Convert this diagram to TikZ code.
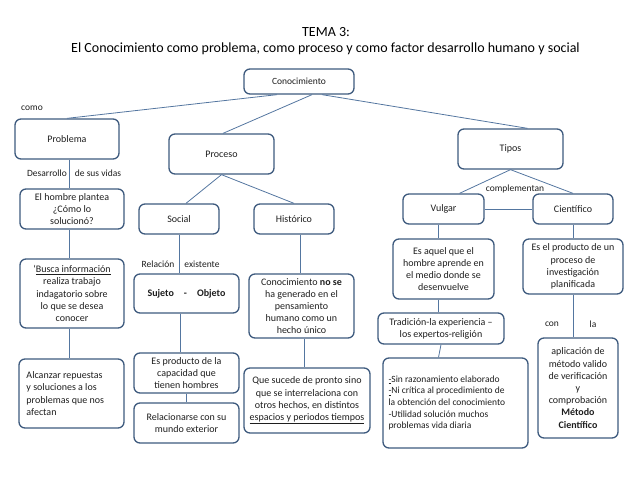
\documentclass[tikz,border=0pt]{standalone}
\usepackage{fontspec}
\setmainfont{Carlito}
\usepackage{tikz}
\usetikzlibrary{positioning,calc}
\definecolor{boxline}{RGB}{62,90,126}
\definecolor{linkline}{RGB}{84,118,160}
\definecolor{txt}{RGB}{30,30,30}

\begin{document}
\begin{tikzpicture}[x = 1pt, y = -1pt,
  box/.style = {draw = boxline, line width = 1.3pt, rounded corners = 6pt, align = center,
    inner sep = 1pt, text = txt, font = \fontsize{10}{12.2}\selectfont},
  lbl/.style = {text = txt, font = \fontsize{9.5}{11}\selectfont, inner sep = 1pt},
  link/.style = {draw = linkline, line width = .8pt}]
\useasboundingbox (0,0) rectangle (638,479);

\node (title1) at (326,32) {\fontsize{14}{16}\selectfont TEMA 3:};
\node (title2) at (325.5,49) {\fontsize{14}{16}\selectfont El Conocimiento como problema, como proceso y como factor desarrollo humano y social};

\node[box, minimum width = 110pt, minimum height = 25pt, font = \fontsize{9.5}{11}\selectfont] (cono) at (299,81.5) {Conocimiento};
\node[lbl] (como) at (32,108) {como};

\node[box, minimum width = 104pt, minimum height = 40pt] (probl) at (67,139) {Problema};
\node[box, minimum width = 105pt, minimum height = 40pt] (proc) at (221.5,154) {Proceso};
\node[box, minimum width = 105pt, minimum height = 40pt] (tipos) at (510.5,149) {Tipos};

\node[lbl] (desarr) at (47,173) {Desarrollo};
\node[lbl] (vidas) at (98,173) {de sus vidas};
\node[box, minimum width = 104pt, minimum height = 40pt] (hombre) at (72,209) {El hombre plantea\\¿Cómo lo\\solucionó?};
\node[box, minimum width = 104pt, minimum height = 69pt] (busca) at (72,293.5) {‘\underline{Busca información}\\realiza trabajo\\indagatorio sobre\\lo que se desea\\conocer};
\node[box, minimum width = 105pt, minimum height = 69pt, text width = 90pt, align = flush left] (alcanzar) at (71.5,393.5) {Alcanzar repuestas\\y soluciones a los\\problemas que nos\\afectan};

\node[box, minimum width = 80pt, minimum height = 30pt] (social) at (179,219) {Social};
\node[box, minimum width = 80pt, minimum height = 30pt] (hist) at (294,219) {Histórico};
\node[lbl] (relacion) at (158,264) {Relación};
\node[lbl] (existe) at (202,264) {existente};
\node[box, minimum width = 105pt, minimum height = 39pt] (sujeto) at (186.5,293.5) {\textbf{Sujeto\quad-\quad Objeto}};
\node[box, minimum width = 105pt, minimum height = 40pt] (esprod) at (186.5,373) {Es producto de la\\capacidad que\\tienen hombres};
\node[box, minimum width = 105pt, minimum height = 40pt] (relac) at (186.5,423) {Relacionarse con su\\mundo exterior};
\node[box, minimum width = 105pt, minimum height = 64pt] (nose) at (301.5,306) {Conocimiento \textbf{no se}\\ha generado en el\\pensamiento\\humano como un\\hecho único};
\node[box, minimum width = 126pt, minimum height = 65pt] (sucede) at (307,400.5) {Que sucede de pronto sino\\que se interrelaciona con\\otros hechos, en distintos\\\underline{espacios y periodos tiempos}};

\node[box, minimum width = 81pt, minimum height = 30pt] (vulgar) at (443.5,209) {Vulgar};
\node[box, minimum width = 80pt, minimum height = 30pt] (cient) at (573,209) {Científico};
\node[lbl] (compl) at (515,189) {complementan};
\node[box, minimum width = 101pt, minimum height = 60pt] (esaquel) at (443.5,269) {Es aquel que el\\hombre aprende en\\el medio donde se\\desenvuelve};
\node[box, minimum width = 126pt, minimum height = 31pt] (tradic) at (441,328.5) {Tradición-la experiencia –\\los expertos-religión};
\node[box, minimum width = 145pt, minimum height = 90pt, text width = 134pt, align = flush left, font = \fontsize{9.5}{11.7}\selectfont] (sinraz) at (455.5,403) {\underline{-}Sin razonamiento elaborado\\\underline{-}Ni crítica al procedimiento de\\la obtención del conocimiento\\-Utilidad solución muchos\\problemas vida diaria\\[6pt]};
\node[box, minimum width = 100pt, minimum height = 55pt] (esprodc) at (573,266.5) {Es el producto de un\\proceso de\\investigación\\planificada};
\node[lbl] (con) at (552,324) {con};
\node[lbl] (la) at (593,324) {la};
\node[box, minimum width = 80pt, minimum height = 100pt] (aplic) at (578,388) {aplicación de\\método valido\\de verificación\\y\\comprobación\\\textbf{Método}\\\textbf{Científico}};

\draw[link] ([xshift = -22pt]cono.south) -- (probl.north);
\draw[link] ([xshift = 13pt]cono.south) -- ([xshift = 1.5pt]proc.north);
\draw[link] ([xshift = 23pt]cono.south) -- ([xshift = 17pt]tipos.north);

\draw[link] ([xshift = 2pt]probl.south) -- ([xshift = 2pt]probl.south |- hombre.north);
\draw[link] ([xshift = -3pt]hombre.south) -- ([xshift = -3pt]hombre.south |- busca.north);
\draw[link] ([xshift = -3pt]busca.south) -- ([xshift = -3pt]busca.south |- alcanzar.north);

\draw[link] (proc.south) -- ([xshift = 7pt]social.north);
\draw[link] (proc.south) -- (hist.north);
\draw[link] (social.south) -- (social.south |- sujeto.north);
\draw[link] ([xshift = -6pt]sujeto.south) -- ([xshift = -6pt]sujeto.south |- esprod.north);
\draw[link] (esprod.south) -- (relac.north);
\draw[link] ([xshift = 6pt]hist.south) -- ([xshift = 6pt]hist.south |- nose.north);
\draw[link] ([xshift = 2.5pt]nose.south) -- ([xshift = 2.5pt]nose.south |- sucede.north);

\draw[link] (tipos.south) -- ([xshift = 16pt]vulgar.north);
\draw[link] (tipos.south) -- (cient.north);
\draw[link] (vulgar.east) -- (cient.west);
\draw[link] ([xshift = -5.5pt]vulgar.south) -- ([xshift = -5.5pt]vulgar.south |- esaquel.north);
\draw[link] ([xshift = -5.5pt]esaquel.south) -- ([xshift = -3pt]tradic.north);
\draw[link] (tradic.south) -- ([xshift = -17pt]sinraz.north);
\draw[link] (cient.south) -- (esprodc.north);
\draw[link] (esprodc.south) -- ([xshift = -5pt]aplic.north);
\end{tikzpicture}
\end{document}
